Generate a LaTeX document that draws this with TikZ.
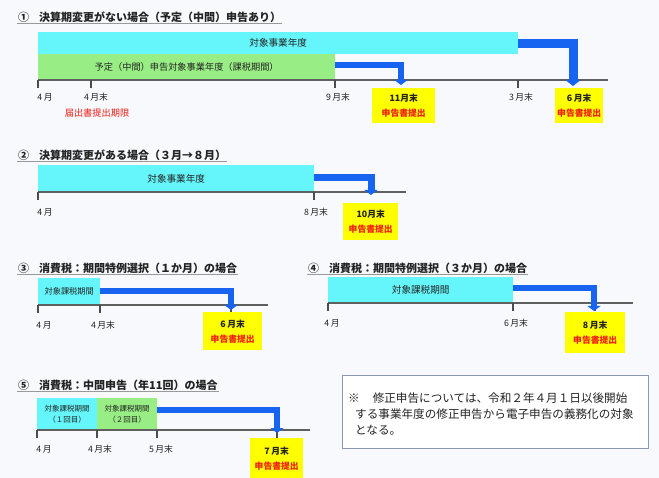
\documentclass[tikz,border=0pt]{standalone}
\usepackage{fontspec}
\setmainfont{Noto Sans CJK JP}
\usetikzlibrary{arrows.meta}
\definecolor{bg}{RGB}{247,249,252}
\definecolor{cyanbar}{RGB}{100,246,250}
\definecolor{greenbar}{RGB}{152,238,132}
\definecolor{ybox}{RGB}{255,255,0}
\definecolor{arrblue}{RGB}{22,100,240}
\definecolor{axisgray}{RGB}{95,95,95}
\definecolor{redtxt}{RGB}{240,30,20}
\definecolor{notebd}{RGB}{140,152,178}
\definecolor{txt}{RGB}{35,35,35}
\tikzset{
  every node/.style={text=txt},
  ttl/.style={anchor=west, inner sep=1pt, font=\fontsize{11}{12}\selectfont\bfseries},
  ttlline/.style={draw=gray!80, line width=0.8pt},
  bar/.style={anchor=north west, inner sep=0pt, align=center},
  cbar/.style={bar, fill=cyanbar},
  gbar/.style={bar, fill=greenbar},
  axisline/.style={draw=axisgray, line width=1.6pt},
  tickmark/.style={draw=axisgray!80!black, line width=1.3pt},
  lbl/.style={anchor=center, inner sep=0pt, font=\fontsize{8.8}{10}\selectfont},
  yb/.style={anchor=north west, inner sep=0pt, fill=ybox, align=center,
    font=\fontsize{8.8}{15}\selectfont\bfseries},
  barrow/.style={draw=arrblue, line width=6pt, line join=miter,
    -{Triangle[length=5pt,width=13pt]}},
}
\newcommand{\due}[1]{{#1}\\{\color{redtxt}申告書提出}}
\begin{document}
\begin{tikzpicture}[x=1pt,y=-1pt]
\fill[bg] (0,0) rectangle (659,478);
\useasboundingbox (0,0) rectangle (659,478);

% ---------- Section 1 ----------
\node[ttl] (t1) at (17,17) {①\hspace{10pt}決算期変更がない場合（予定（中間）申告あり）};
\draw[ttlline] (t1.south west) -- (t1.south east);
\node[cbar, minimum width=480pt, minimum height=22pt, font=\fontsize{9.6}{10}\selectfont] (c1) at (38,32) {対象事業年度};
\node[gbar, minimum width=297pt, minimum height=26pt, font=\fontsize{9.2}{10}\selectfont] (g1) at (38,54) {予定（中間）申告対象事業年度（課税期間）};
\coordinate (a1s) at (38,80);
\coordinate (a1e) at (608,80);
\draw[axisline] (a1s) -- (a1e);
\foreach \x in {38,91,335,518} \draw[tickmark] (\x,80) -- ++(0,8);
\node[lbl] (l1a) at (45,97) {4\,月};
\node[lbl] (l1b) at (96,97) {4\,月末};
\node[lbl] (l1c) at (338,97) {9\,月末};
\node[lbl] (l1d) at (521,97) {3\,月末};
\node[lbl, text=redtxt, font=\fontsize{9.2}{10}\selectfont] (l1r) at (97,113) {届出書提出期限};
\node[yb, minimum width=63pt, minimum height=35pt] (y1) at (372,88) {\due{11月末}};
\node[yb, minimum width=48pt, minimum height=35pt] (y2) at (555,88) {\due{6\,月末}};
\coordinate (p1) at (401,85);
\coordinate (p2) at (573,86);
\draw[barrow] ([yshift=2pt]g1.east) -| (p1);
\draw[barrow, line width=9pt, -{Triangle[length=6pt,width=15pt]}] (c1.east) -| (p2);

% ---------- Section 2 ----------
\node[ttl] (t2) at (17,155) {②\hspace{10pt}決算期変更がある場合（３月→８月）};
\draw[ttlline] (t2.south west) -- (t2.south east);
\node[cbar, minimum width=276pt, minimum height=27pt, font=\fontsize{9.6}{10}\selectfont] (c2) at (38,165) {対象事業年度};
\coordinate (a2s) at (38,192);
\coordinate (a2e) at (406,192);
\draw[axisline] (a2s) -- (a2e);
\foreach \x in {38,314} \draw[tickmark] (\x,192) -- ++(0,8);
\node[lbl] (l2a) at (45,212) {4\,月};
\node[lbl] (l2b) at (316,212) {8\,月末};
\node[yb, minimum width=55pt, minimum height=37pt] (y3) at (343,203) {\due{10月末}};
\coordinate (p3) at (371,195);
\draw[barrow, line width=7pt] ([yshift=1.5pt]c2.east) -| (p3);

% ---------- Section 3 ----------
\node[ttl] (t3) at (17,268) {③\hspace{10pt}消費税：期間特例選択（１か月）の場合};
\draw[ttlline] (t3.south west) -- (t3.south east);
\node[cbar, minimum width=62pt, minimum height=26pt, font=\fontsize{8.2}{9}\selectfont] (c3) at (38,278) {対象課税期間};
\coordinate (a3s) at (38,305);
\coordinate (a3e) at (268,305);
\draw[axisline] (a3s) -- (a3e);
\foreach \x in {38,100,231} \draw[tickmark] (\x,305) -- ++(0,8);
\node[lbl] (l3a) at (44,325) {4\,月};
\node[lbl] (l3b) at (103,325) {4\,月末};
\node[yb, minimum width=59pt, minimum height=38pt] (y4) at (203,312) {\due{6\,月末}};
\coordinate (p4) at (231,310);
\draw[barrow] (c3.east) -| (p4);

% ---------- Section 4 ----------
\node[ttl] (t4) at (307,268) {④\hspace{10pt}消費税：期間特例選択（３か月）の場合};
\draw[ttlline] (t4.south west) -- (t4.south east);
\node[cbar, minimum width=185pt, minimum height=26pt, font=\fontsize{9.6}{10}\selectfont] (c4) at (328,277) {対象課税期間};
\coordinate (a4s) at (328,303);
\coordinate (a4e) at (633,303);
\draw[axisline] (a4s) -- (a4e);
\foreach \x in {328,513,595} \draw[tickmark] (\x,303) -- ++(0,8);
\node[lbl] (l4a) at (332,323) {4\,月};
\node[lbl] (l4b) at (516,323) {6\,月末};
\node[yb, minimum width=60pt, minimum height=41pt] (y5) at (565,312) {\due{8\,月末}};
\coordinate (p5) at (594,311);
\draw[barrow, line width=5.5pt] ([yshift=2pt]c4.east) -| (p5);

% ---------- Section 5 ----------
\node[ttl] (t5) at (17,385) {⑤\hspace{10pt}消費税：中間申告（年11回）の場合};
\draw[ttlline] (t5.south west) -- (t5.south east);
\node[cbar, minimum width=60pt, minimum height=32pt, font=\fontsize{7.5}{11}\selectfont] (c5) at (37,398) {対象課税期間\\（１回目）};
\node[gbar, minimum width=60pt, minimum height=32pt, font=\fontsize{7.5}{11}\selectfont] (g5) at (97,398) {対象課税期間\\（２回目）};
\coordinate (a5s) at (37,430);
\coordinate (a5e) at (310,430);
\draw[axisline] (a5s) -- (a5e);
\foreach \x in {37,97,157,277} \draw[tickmark] (\x,430) -- ++(0,8);
\node[lbl] (l5a) at (44,449) {4\,月};
\node[lbl] (l5b) at (100,449) {4\,月末};
\node[lbl] (l5c) at (161,449) {5\,月末};
\node[yb, minimum width=53pt, minimum height=40pt] (y6) at (250,438) {\due{7\,月末}};
\coordinate (p6) at (277,433);
\draw[barrow] ([yshift=4pt]g5.east) -| (p6);

% ---------- Note ----------
\node[draw=notebd, line width=1.2pt, fill=white, anchor=north west, inner sep=0pt,
  minimum width=306pt, minimum height=73pt] (note) at (342,375) {};
\node[anchor=north west, inner sep=0pt, align=left, font=\fontsize{11.6}{16}\selectfont] (notetxt) at (348,393)
  {※\hspace*{13pt}修正申告については、令和２年４月１日以後開始\\
   \hspace*{7pt}する事業年度の修正申告から電子申告の義務化の対象\\
   \hspace*{7pt}となる。};
\end{tikzpicture}
\end{document}
